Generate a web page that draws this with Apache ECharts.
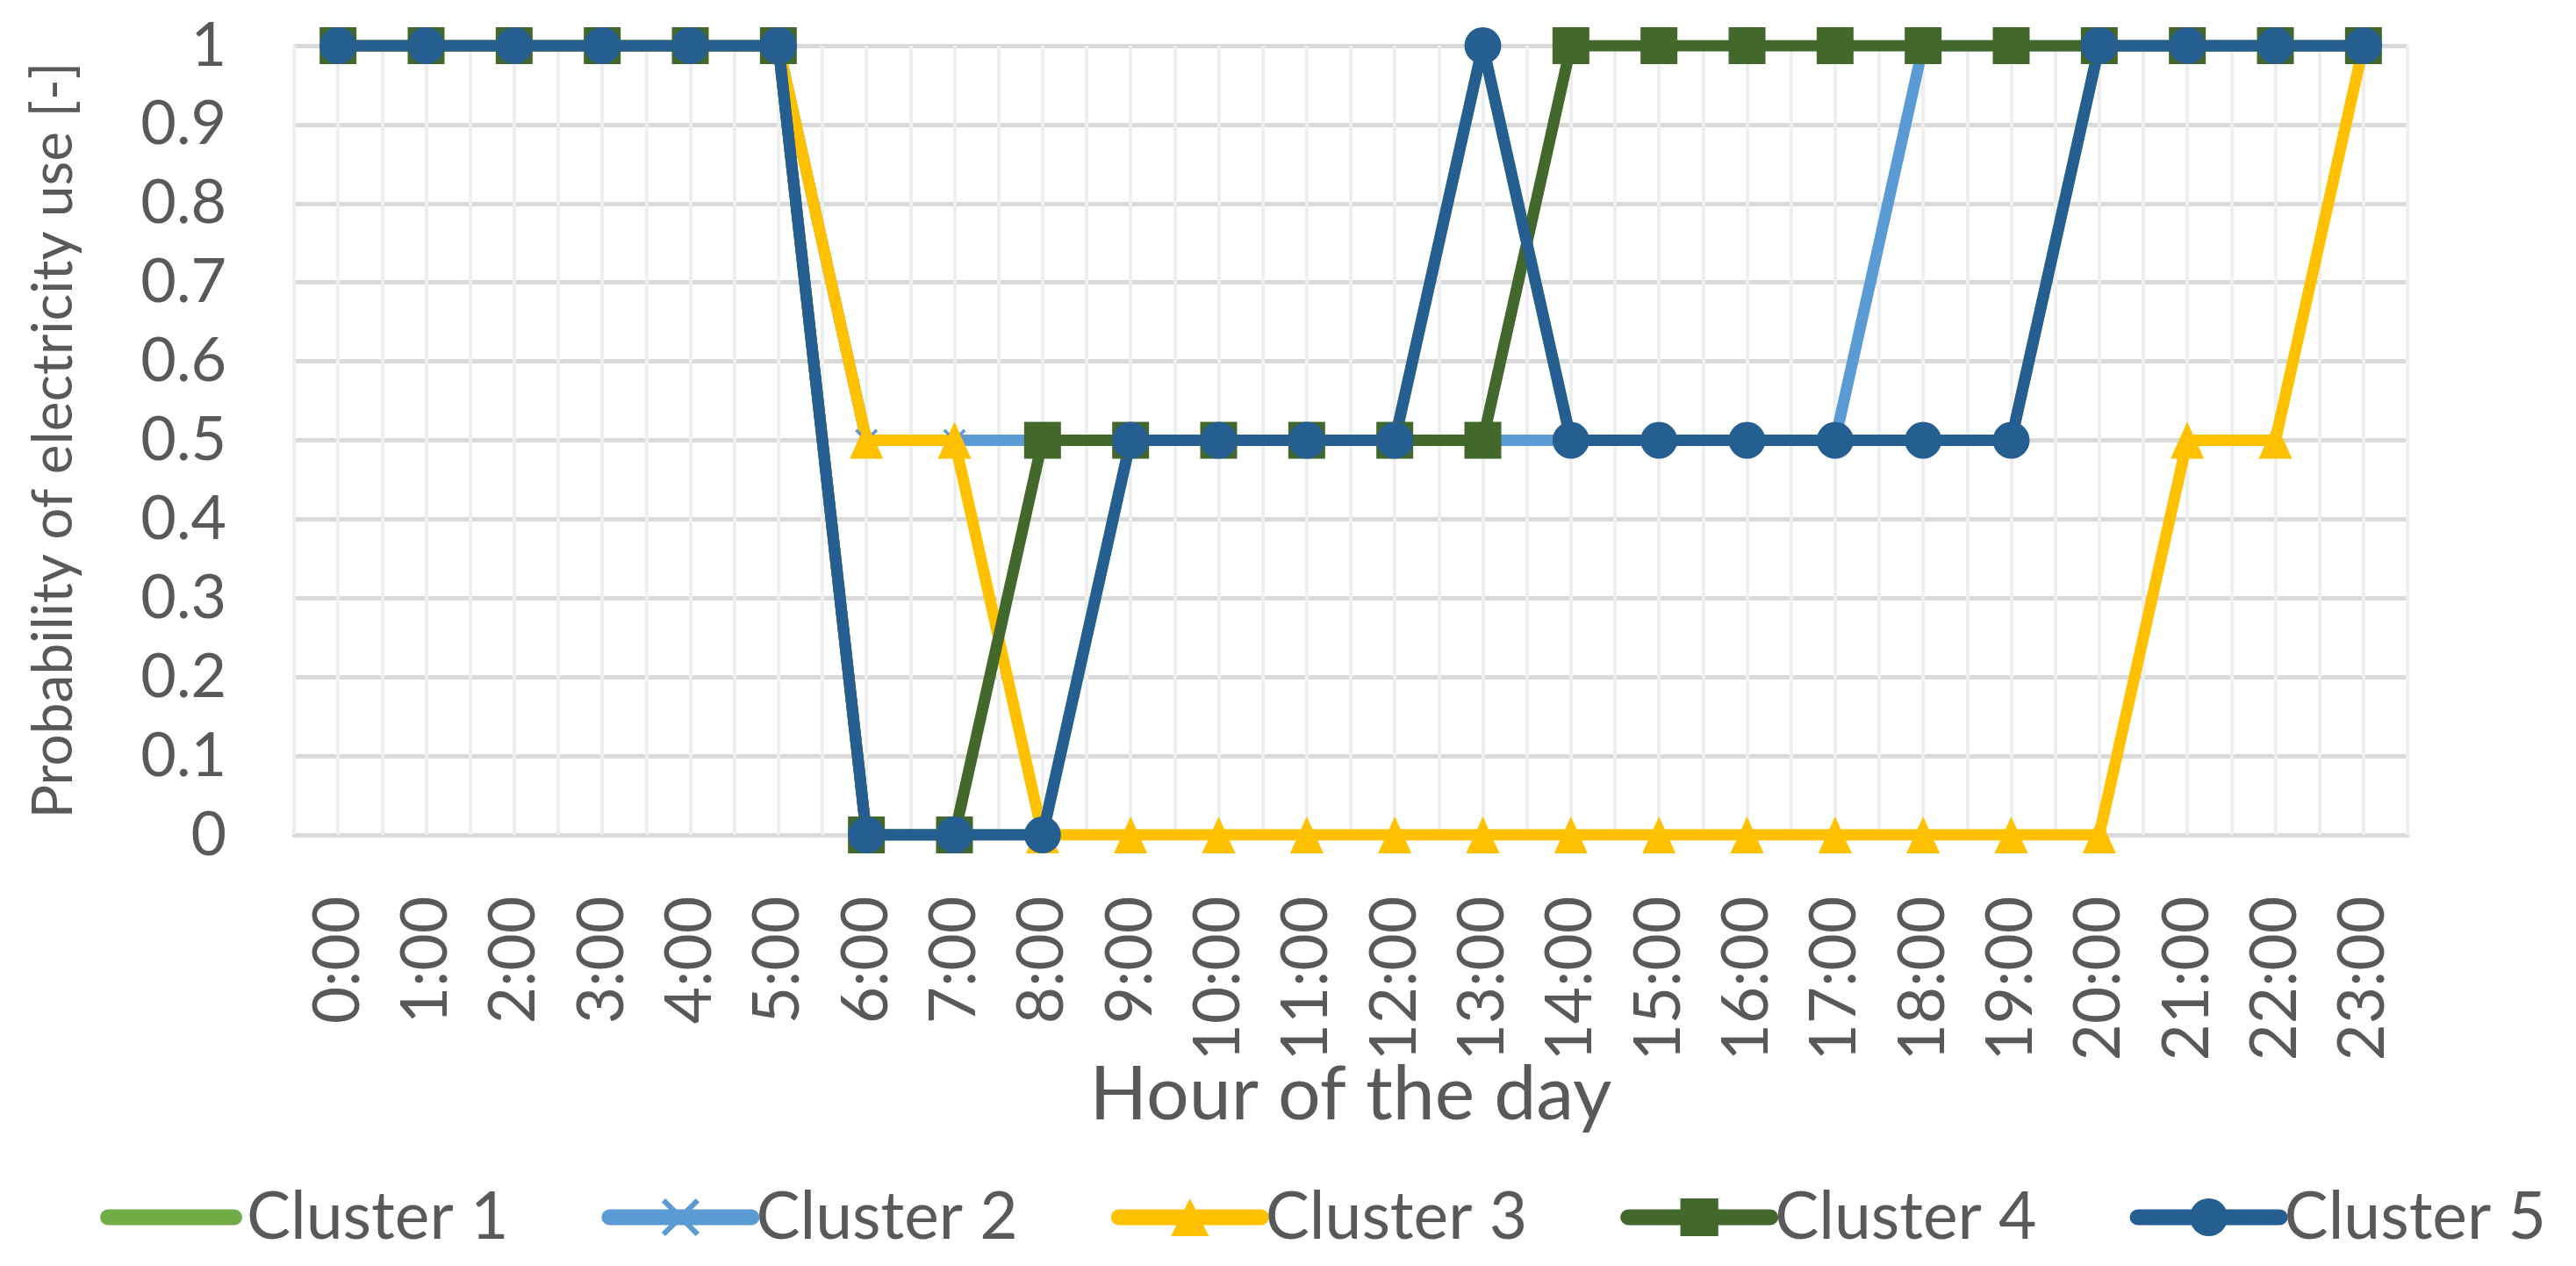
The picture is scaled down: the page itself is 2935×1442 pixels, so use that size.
<!DOCTYPE html>
<html>
<head>
<meta charset="utf-8">
<title>Probability of electricity use</title>
<script src="https://cdn.jsdelivr.net/npm/echarts@6/dist/echarts.min.js"></script>
<style>
  html, body { margin: 0; padding: 0; background: #fff; }
  #chart { width: 2935px; height: 1442px; }
</style>
</head>
<body>
<div id="chart"></div>
<script>
// x axis categories
const hours = ['0:00', '1:00', '2:00', '3:00', '4:00', '5:00', '6:00', '7:00', '8:00', '9:00', '10:00', '11:00',
  '12:00', '13:00', '14:00', '15:00', '16:00', '17:00', '18:00', '19:00', '20:00', '21:00', '22:00', '23:00'];

// y axis ticks
const yMin = 0;
const yMax = 1;
const yStep = 0.1;

// series values (one per hour)
const cluster1 = [1, 1, 1, 1, 1, 1, 0, 0, 0, 0.5, 0.5, 0.5, 0.5, 1, 0.5, 0.5, 0.5, 0.5, 0.5, 0.5, 1, 1, 1, 1];
const cluster2 = [1, 1, 1, 1, 1, 1, 0.5, 0.5, 0.5, 0.5, 0.5, 0.5, 0.5, 0.5, 0.5, 0.5, 0.5, 0.5, 1, 1, 1, 1, 1, 1];
const cluster3 = [1, 1, 1, 1, 1, 1, 0.5, 0.5, 0, 0, 0, 0, 0, 0, 0, 0, 0, 0, 0, 0, 0, 0.5, 0.5, 1];
const cluster4 = [1, 1, 1, 1, 1, 1, 0, 0, 0.5, 0.5, 0.5, 0.5, 0.5, 0.5, 1, 1, 1, 1, 1, 1, 1, 1, 1, 1];
const cluster5 = [1, 1, 1, 1, 1, 1, 0, 0, 0, 0.5, 0.5, 0.5, 0.5, 1, 0.5, 0.5, 0.5, 0.5, 0.5, 0.5, 1, 1, 1, 1];

const seriesNames = ['Cluster 1', 'Cluster 2', 'Cluster 3', 'Cluster 4', 'Cluster 5'];
const colorList = ['#70AD47', '#5B9BD5', '#FFC000', '#43682B', '#255E91'];

const textColor = '#595959';
const fontName = 'Lato, "Liberation Sans", sans-serif';

// excel style "x" marker
const crossPath = 'path://M0,2L2,0L10,8L18,0L20,2L12,10L20,18L18,20L10,12L2,20L0,18L8,10Z';
// plain thick line for the legend of the series without markers
const barPath = 'path://M9,0h144a9,9 0 0 1 0,18h-144a9,9 0 0 1 0,-18z';

const myChart = echarts.init(document.getElementById('chart'));

function lineSeries(idx, data, symbol, size) {
  return {
    name: seriesNames[idx],
    type: 'line',
    xAxisIndex: 0,
    data: data,
    symbol: symbol,
    symbolSize: size,
    showSymbol: symbol !== 'none',
    lineStyle: { width: 13, color: colorList[idx], cap: 'round', join: 'round' },
    itemStyle: { color: colorList[idx], borderColor: colorList[idx], borderWidth: 0 },
    emphasis: { disabled: true },
    animation: false
  };
}

const option = {
  backgroundColor: '#fff',
  color: colorList,
  textStyle: { fontFamily: fontName },
  grid: {
    left: 335,
    right: 192,
    top: 52,
    bottom: 491,
    containLabel: false,
    outerBoundsMode: 'none'
  },
  legend: {
    top: 1349,
    left: 114,
    width: 2820,
    padding: 0,
    itemWidth: 162,
    itemHeight: 54,
    itemGap: 106,
    lineStyle: { width: 18, cap: 'round' },
    textStyle: { color: textColor, fontSize: 75, lineHeight: 54, fontFamily: fontName },
    data: [
      { name: 'Cluster 1', icon: barPath },
      'Cluster 2', 'Cluster 3', 'Cluster 4', 'Cluster 5'
    ]
  },
  xAxis: [
    {
      type: 'category',
      data: hours,
      boundaryGap: true,
      name: 'Hour of the day',
      nameLocation: 'middle',
      nameGap: 253,
      nameMoveOverlap: false,
      nameTextStyle: { color: textColor, fontSize: 86, fontFamily: fontName },
      axisLine: { show: true, lineStyle: { color: '#D9D9D9', width: 5 } },
      axisTick: { show: false },
      splitLine: { show: false },
      axisLabel: {
        rotate: 90,
        interval: 0,
        margin: 70,
        color: textColor,
        fontSize: 73,
        fontFamily: fontName
      }
    },
    {
      // only used for the light vertical grid lines (every half hour)
      type: 'value',
      position: 'bottom',
      min: -0.5,
      max: 23.5,
      interval: 0.5,
      z: 1,
      axisLine: { show: false },
      axisTick: { show: false },
      axisLabel: { show: false },
      splitLine: { show: true, lineStyle: { color: '#EEEEEE', width: 4 } }
    }
  ],
  yAxis: {
    type: 'value',
    min: yMin,
    max: yMax,
    interval: yStep,
    name: 'Probability of electricity use [-]',
    nameLocation: 'middle',
    nameGap: 242,
    nameMoveOverlap: false,
    nameTextStyle: { color: textColor, fontSize: 64, fontFamily: fontName },
    axisLine: { show: false },
    axisTick: { show: false },
    axisLabel: {
      margin: 77,
      color: textColor,
      fontSize: 70,
      fontFamily: fontName
    },
    splitLine: { show: true, lineStyle: { color: '#D9D9D9', width: 5 } }
  },
  series: [
    lineSeries(0, cluster1, 'none', 0),
    lineSeries(1, cluster2, crossPath, 26),
    lineSeries(2, cluster3, 'triangle', [38, 42]),
    lineSeries(3, cluster4, 'rect', 42),
    lineSeries(4, cluster5, 'circle', 42)
  ]
};

myChart.setOption(option);
</script>
</body>
</html>
